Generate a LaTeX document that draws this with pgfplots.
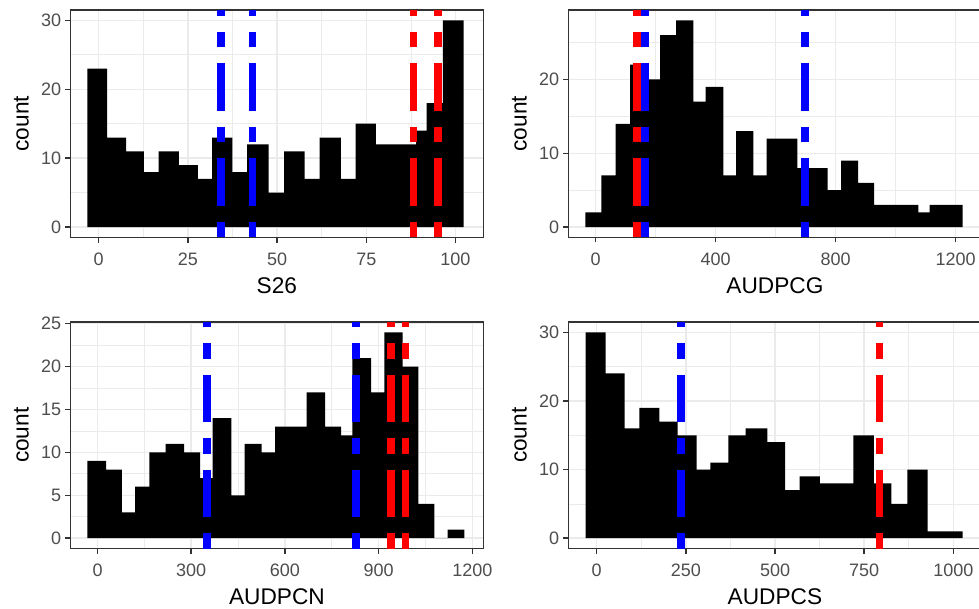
\documentclass[border=0pt]{standalone}
\usepackage{fontspec}
\setmainfont{Liberation Sans}
\usepackage{pgfplots}
\pgfplotsset{compat=1.18}
\definecolor{gtwenty}{HTML}{333333}
\definecolor{gthirty}{HTML}{4D4D4D}
\definecolor{gridc}{HTML}{EBEBEB}
\pgfplotsset{
  panel/.style={
    scale only axis,
    anchor=south west,
    axis line style={draw=gtwenty, line width=1.2pt},
    grid=both,
    major grid style={draw=gridc, line width=1.1pt},
    minor grid style={draw=gridc, line width=0.55pt},
    tick align=outside,
    tick pos=left,
    major tick length=3.75pt,
    minor tick length=0pt,
    every tick/.style={draw=gtwenty, line width=1.1pt},
    tick label style={font=\fontsize{13.5}{14}\selectfont, text=gthirty, inner sep=0pt},
    xticklabel style={anchor=north, yshift=-7.75pt},
    yticklabel style={anchor=east, xshift=-3pt},
    /pgf/number format/assume math mode=true,
    /pgf/number format/1000 sep={},
    scaled ticks=false,
    xlabel style={font=\fontsize{17}{18}\selectfont, at={([yshift=-30pt]axis description cs:0.5,0)}, anchor=north, inner sep=0pt},
    ylabel style={font=\fontsize{17}{18}\selectfont, at={([xshift=-36.75pt]axis description cs:0,0.5)}, anchor=center, inner sep=0pt},
    ylabel=count,
  },
  hist/.style={ybar interval, fill=black, draw=none},
  vl/.style={line width=5.8pt, dash pattern=on 11.5pt off 12pt on 35.75pt off 12pt},
}
\begin{document}
\begin{tikzpicture}
\useasboundingbox (0,0) rectangle (734.25pt,456pt);
\clip (0,0) rectangle (734.25pt,456pt);
% Panel 1: S26
\begin{axis}[panel, at={(52.875pt,277.875pt)}, width=309.6pt, height=170.625pt,
  xmin=-7.9, xmax=107.8, ymin=-1.5, ymax=31.5,
  xtick={0,25,50,75,100}, minor xtick={12.5,37.5,62.5,87.5},
  ytick={0,10,20,30}, minor ytick={5,15,25},
  xlabel=S26]
\addplot[hist] coordinates {(-3.2,23) (2.4,13) (7.7,11) (12.7,8) (16.8,11) (22.5,9) (27.8,7) (31.8,13) (37.5,8) (41.6,12) (47.6,5) (52.0,11) (57.7,7) (61.9,13) (67.9,7) (72.0,15) (77.7,12) (89.0,14) (91.9,18) (96.5,30) (102.3,0)};
\addplot[vl, blue] coordinates {(34.3,-1.5) (34.3,31.5)};
\addplot[vl, blue] coordinates {(43.1,-1.5) (43.1,31.5)};
\addplot[vl, red] coordinates {(88.2,-1.5) (88.2,31.5)};
\addplot[vl, red] coordinates {(95.2,-1.5) (95.2,31.5)};
\end{axis}
% Panel 2: AUDPCG
\begin{axis}[panel, at={(426.225pt,277.875pt)}, width=309.9pt, height=170.625pt,
  xmin=-90.7, xmax=1286.6, ymin=-1.4, ymax=29.4,
  xtick={0,400,800,1200}, minor xtick={200,600,1000},
  ytick={0,10,20}, minor ytick={5,15,25},
  xlabel=AUDPCG]
\addplot[hist] coordinates {(-33.9,2) (19.4,7) (67.2,14) (115,22) (166,20) (215,26) (268.3,28) (326.1,17) (367.2,19) (426.1,7) (468.3,13) (526.1,7) (570.6,12) (672.8,8) (773.9,5) (818.3,9) (875,6) (928.3,3) (1076.1,2) (1113.9,3) (1223.9,0)};
\addplot[vl, red] coordinates {(139,-1.4) (139,29.4)};
\addplot[vl, blue] coordinates {(164.5,-1.4) (164.5,29.4)};
\addplot[vl, blue] coordinates {(698.3,-1.4) (698.3,29.4)};
\end{axis}
% Panel 3: AUDPCN
\begin{axis}[panel, at={(52.875pt,44.625pt)}, width=309.6pt, height=169.875pt,
  xmin=-86.5, xmax=1235.3, ymin=-1.2, ymax=25.2,
  xtick={0,300,600,900,1200}, minor xtick={150,450,750,1050},
  ytick={0,5,10,15,20,25}, minor ytick={2.5,7.5,12.5,17.5,22.5},
  xlabel=AUDPCN]
\addplot[hist] coordinates {(-32.6,9) (27.2,8) (78.4,3) (120.1,6) (166,10) (218.3,11) (277,10) (328.2,7) (368.8,14) (428.5,5) (471.2,11) (525.7,10) (568.4,13) (669.8,17) (728.5,13) (779.7,12) (816,21) (875.8,17) (918.5,24) (977.2,20) (1027.3,4) (1078.6,0) (1121.2,1) (1174.6,0)};
\addplot[vl, blue] coordinates {(351.2,-1.2) (351.2,25.2)};
\addplot[vl, blue] coordinates {(828.8,-1.2) (828.8,25.2)};
\addplot[vl, red] coordinates {(939.8,-1.2) (939.8,25.2)};
\addplot[vl, red] coordinates {(986.2,-1.2) (986.2,25.2)};
\end{axis}
% Panel 4: AUDPCS
\begin{axis}[panel, at={(426.225pt,44.625pt)}, width=309.9pt, height=169.875pt,
  xmin=-79.6, xmax=1078.8, ymin=-1.5, ymax=31.5,
  xtick={0,250,500,750,1000}, minor xtick={125,375,625,875},
  ytick={0,10,20,30}, minor ytick={5,15,25},
  xlabel=AUDPCS]
\addplot[hist] coordinates {(-30.9,30) (25.1,24) (78.4,16) (119.5,19) (175.6,17) (227,15) (280.3,10) (318.6,11) (369,15) (417.6,16) (478.4,14) (527.9,7) (569,9) (626,8) (719.4,15) (777.4,8) (826,5) (870.8,10) (928,1) (1026,0)};
\addplot[vl, blue] coordinates {(235.4,-1.5) (235.4,31.5)};
\addplot[vl, red] coordinates {(792.8,-1.5) (792.8,31.5)};
\end{axis}
\end{tikzpicture}
\end{document}
